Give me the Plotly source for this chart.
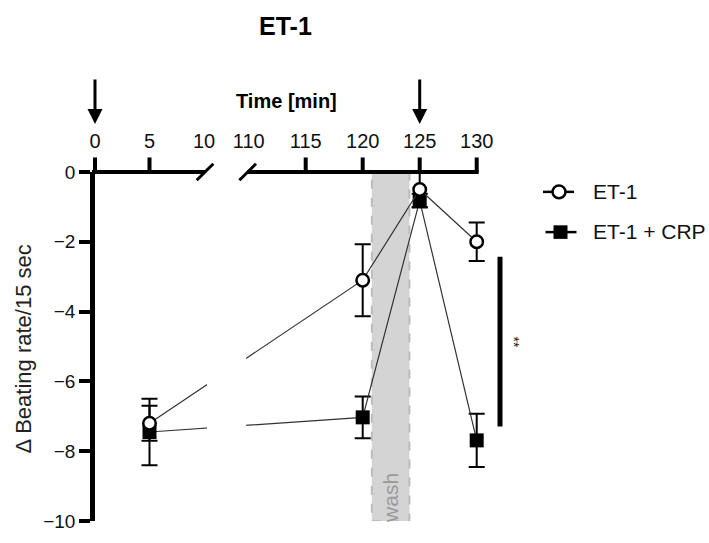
import plotly.graph_objects as go

# Sampling times (min) and change in beating rate per 15 s (mean and SEM)
times = [5, 120, 125, 130]
et1_mean = [-7.2, -3.1, -0.5, -2.0]
et1_sem = [0.5, 1.03, 0.5, 0.55]
crp_mean = [-7.45, -7.03, -0.82, -7.69]
crp_sem = [0.95, 0.6, 0.2, 0.76]

series_names = ["ET-1", "ET-1 + CRP"]

# Broken time axis: labelled times, and which of them carry a tick mark
label_times = [0, 5, 10, 110, 115, 120, 125, 130]
ticked_times = [0, 5, 115, 120, 125, 130]
break_times = [10, 110]
y_ticks = [0, -2, -4, -6, -8, -10]

# Protocol annotations
drug_additions = [0, 125]
wash_window = [120.8, 124.1]
sig_span = [-2.43, -7.29]
sig_label = "**"

FONT = "Liberation Sans, Arial, sans-serif"

# Page / plot-area geometry (px)
W, H = 709, 543
L, R, T, B = 95, 189, 172, 11
PW = W - L - R
PH = H - T - B

# Broken time axis: 0-10 min and 110-130 min drawn as two linear pieces
EARLY_SCALE = 10.9    # px per min on the early piece
LATE_SCALE = 11.4     # px per min on the late piece
LATE_ORIGIN = 267.7   # plot position of 120 min
TICK_LEN = 15


def xpos(t):
    if t <= 10:
        return EARLY_SCALE * t
    return LATE_ORIGIN + LATE_SCALE * (t - 120)


def pxp(x):
    """page x (px) -> paper fraction"""
    return (x - L) / PW


def pyp(y):
    """page y (px) -> paper fraction"""
    return (H - B - y) / PH


fig = go.Figure()

# ET-1 + CRP underneath, ET-1 on top
fig.add_trace(go.Scatter(
    x=[xpos(t) for t in times], y=crp_mean, name=series_names[1],
    mode="lines+markers",
    line=dict(color="#333333", width=1.2),
    marker=dict(symbol="square", size=14, color="black"),
    error_y=dict(type="data", array=crp_sem, color="black", thickness=2, width=8),
    cliponaxis=False, showlegend=False,
))
fig.add_trace(go.Scatter(
    x=[xpos(t) for t in times], y=et1_mean, name=series_names[0],
    mode="lines+markers",
    line=dict(color="#333333", width=1.2),
    marker=dict(symbol="circle", size=12.5, color="white",
                line=dict(color="black", width=2.5)),
    error_y=dict(type="data", array=et1_sem, color="black", thickness=2, width=8),
    cliponaxis=False, showlegend=False,
))

shapes = []
# wash period
shapes.append(dict(type="rect", xref="x", yref="y",
                   x0=xpos(wash_window[0]), x1=xpos(wash_window[1]), y0=-10, y1=0,
                   fillcolor="#d4d4d4", line=dict(color="#bcbcbc", width=2, dash="dash"),
                   layer="below"))
# blank the traces across the axis break
shapes.append(dict(type="rect", xref="x", yref="y",
                   x0=xpos(break_times[0]) + 3, x1=xpos(break_times[1]) - 2.5, y0=-10, y1=0,
                   fillcolor="white", line=dict(width=0), layer="above"))
# top time axis, two pieces
AX_W = 4
shapes.append(dict(type="line", xref="paper", yref="paper",
                   x0=pxp(92), x1=(xpos(break_times[0]) + 1) / PW, y0=1, y1=1,
                   line=dict(color="black", width=AX_W)))
shapes.append(dict(type="line", xref="paper", yref="paper",
                   x0=(xpos(break_times[1]) - 1) / PW, x1=(xpos(ticked_times[-1]) + 2) / PW,
                   y0=1, y1=1, line=dict(color="black", width=AX_W)))
# tick marks (none at the break)
for t in ticked_times:
    shapes.append(dict(type="line", xref="paper", yref="paper",
                       x0=xpos(t) / PW, x1=xpos(t) / PW, y0=1, y1=1 + TICK_LEN / PH,
                       line=dict(color="black", width=4)))
# break marks
for bx in (xpos(break_times[0]) + 1, xpos(break_times[1]) - 1):
    shapes.append(dict(type="line", xref="paper", yref="paper",
                       x0=(bx - 8.3) / PW, x1=(bx + 8.3) / PW,
                       y0=1 - 8.5 / PH, y1=1 + 8.5 / PH,
                       line=dict(color="black", width=3)))
# significance bar
shapes.append(dict(type="line", xref="paper", yref="y",
                   x0=pxp(500), x1=pxp(500), y0=sig_span[0], y1=sig_span[1],
                   line=dict(color="black", width=5)))

# legend (drawn by hand to the right of the plot)
shapes.append(dict(type="line", xref="paper", yref="paper",
                   x0=pxp(543), x1=pxp(574), y0=pyp(192.5), y1=pyp(192.5),
                   line=dict(color="black", width=2.5)))
shapes.append(dict(type="circle", xref="paper", yref="paper",
                   x0=pxp(552.5), x1=pxp(565.5), y0=pyp(199), y1=pyp(186),
                   fillcolor="white", line=dict(color="black", width=2.5)))
shapes.append(dict(type="line", xref="paper", yref="paper",
                   x0=pxp(545.5), x1=pxp(576.5), y0=pyp(234), y1=pyp(234),
                   line=dict(color="black", width=2.5)))
shapes.append(dict(type="rect", xref="paper", yref="paper",
                   x0=pxp(553.5), x1=pxp(567.5), y0=pyp(241), y1=pyp(227),
                   fillcolor="black", line=dict(width=0)))

annotations = []
for name, yy in zip(series_names, (192, 233)):
    annotations.append(dict(xref="paper", yref="paper", x=pxp(591), y=pyp(yy),
                            xanchor="left", yanchor="middle", showarrow=False, text=name,
                            font=dict(family=FONT, size=21, color="#111111")))
# drug addition arrows
for t in drug_additions:
    annotations.append(dict(xref="x", yref="paper", x=xpos(t), y=pyp(122.5),
                            ax=0, ay=-46, text="", showarrow=True,
                            arrowhead=2, arrowsize=1, arrowwidth=3, arrowcolor="black"))
# titles
annotations.append(dict(xref="paper", yref="paper", x=pxp(285), y=pyp(21),
                        text="<b>ET-1</b>", showarrow=False, xanchor="center", yanchor="middle",
                        font=dict(family=FONT, size=25, color="black")))
annotations.append(dict(xref="paper", yref="paper", x=pxp(286.5), y=pyp(99),
                        text="<b>Time [min]</b>", showarrow=False, xanchor="center",
                        yanchor="middle", font=dict(family=FONT, size=20, color="black")))
annotations.append(dict(xref="paper", yref="paper", x=pxp(23.5), y=pyp(354.5),
                        text="\u0394 Beating rate/15 sec", textangle=-90, showarrow=False,
                        xanchor="center", yanchor="middle",
                        font=dict(family=FONT, size=22, color="#222222")))
# wash label
annotations.append(dict(xref="x", yref="y", x=xpos(sum(wash_window) / 2), y=-9.35,
                        text="wash", textangle=-90, showarrow=False,
                        xanchor="center", yanchor="middle",
                        font=dict(family=FONT, size=21, color="#999999")))
# significance
annotations.append(dict(xref="paper", yref="y", x=pxp(514), y=sum(sig_span) / 2,
                        text=sig_label, textangle=90, showarrow=False,
                        xanchor="center", yanchor="middle",
                        font=dict(family=FONT, size=14, color="#222222")))

tick_font = dict(family=FONT, size=20, color="#111111")
fig.update_layout(
    width=W, height=H, autosize=False,
    margin=dict(l=L, r=R, t=T, b=B, pad=0),
    paper_bgcolor="white", plot_bgcolor="white",
    showlegend=False,
    xaxis=dict(range=[0, PW], side="top", anchor="y",
               tickvals=[xpos(t) for t in label_times],
               ticktext=[str(t) for t in label_times],
               ticks="outside", ticklen=TICK_LEN, tickwidth=4, tickcolor="rgba(0,0,0,0)",
               showline=False, showgrid=False, zeroline=False, tickfont=tick_font),
    yaxis=dict(range=[-10, 0], tickvals=y_ticks,
               ticks="outside", ticklen=11, tickwidth=4, tickcolor="black",
               showline=True, linewidth=4.5, linecolor="black",
               showgrid=False, zeroline=False,
               tickfont=dict(family=FONT, size=19, color="#111111")),
    shapes=shapes,
    annotations=annotations,
)

fig.write_html("out.html", config={"displayModeBar": False})
